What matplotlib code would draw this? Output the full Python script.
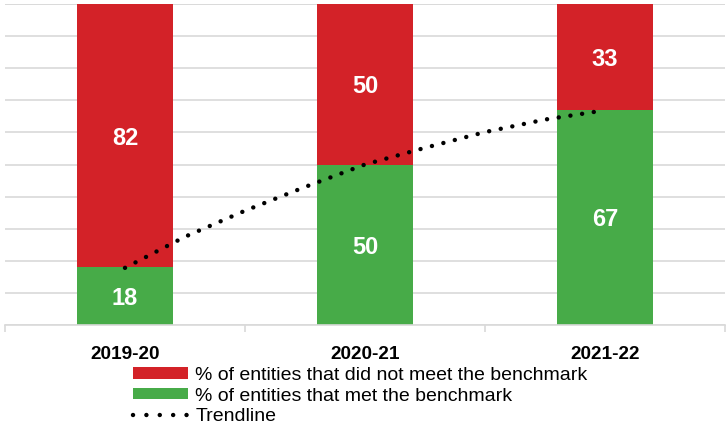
import matplotlib
matplotlib.use("Agg")
import matplotlib.pyplot as plt
from matplotlib.patches import Patch
from matplotlib.lines import Line2D

categories = ["2019-20", "2020-21", "2021-22"]
met = [18, 50, 67]
not_met = [82, 50, 33]
# trendline at quarter-category steps
trend_x = [0, 0.25, 0.5, 0.75, 1.0, 1.25, 1.5, 1.75, 2.0]
trend_y = [17.8, 27.5, 35.6, 43.0, 50.0, 55.2, 60.1, 64.0, 66.9]

RED = "#d32228"
GREEN = "#47ab48"
GRID = "#d9d9d9"

plt.rcParams['font.family'] = ['Liberation Sans', 'DejaVu Sans']

fig = plt.figure(figsize=(7.26, 4.25), dpi=100)
ax = fig.add_axes([5/726, 100/425, 720/726, 321/425])

x = list(range(len(categories)))
ax.bar(x, met, width=0.4, color=GREEN, zorder=2)
ax.bar(x, not_met, width=0.4, bottom=met, color=RED, zorder=2)

for i in x:
    ax.text(i, met[i]/2, str(met[i]), ha='center', va='center_baseline', color='white',
            fontsize=17, fontweight='bold', zorder=4)
    ax.text(i, met[i] + not_met[i]/2, str(not_met[i]), ha='center', va='center_baseline',
            color='white', fontsize=17, fontweight='bold', zorder=4)

dot_style = (0, (0.01, 2.65))
ax.plot(trend_x, trend_y, color='black', lw=3.2, linestyle=dot_style,
        dash_capstyle='round', solid_capstyle='round', zorder=3)

ax.set_xlim(-0.5, 2.5)
ax.set_ylim(0, 100)
ax.set_yticks(range(0, 101, 10))
ax.yaxis.grid(True, color=GRID, lw=1.2, zorder=0)
ax.tick_params(axis='y', length=0, labelleft=False)
ax.set_xticks([-0.5, 0.5, 1.5, 2.5], minor=False)
ax.set_xticklabels([])
ax.tick_params(axis='x', which='major', length=5, color=GRID, width=1.2)
ax.set_xticks(x, minor=True)
ax.set_xticklabels(categories, minor=True, fontsize=13.7, fontweight='bold')
ax.tick_params(axis='x', which='minor', length=0, pad=15)
for s in ['left', 'right', 'top']:
    ax.spines[s].set_visible(False)
ax.spines['bottom'].set_color(GRID)
ax.spines['bottom'].set_linewidth(1.2)
ax.axhline(100, color=GRID, lw=1.2, zorder=0)

handles = [Patch(facecolor=RED, edgecolor='none'),
           Patch(facecolor=GREEN, edgecolor='none'),
           Line2D([0], [0], color='black', lw=3.2, linestyle=(0, (0.01, 3.0)),
                  dash_capstyle='round')]
labels = ["% of entities that did not meet the benchmark",
          "% of entities that met the benchmark",
          "Trendline"]
fig.legend(handles, labels, loc='upper left', bbox_to_anchor=(133/726, 1 - 367/425),
           frameon=False, fontsize=14, handlelength=2.85, handleheight=0.52,
           handletextpad=0.35, labelspacing=0.19, borderpad=0, borderaxespad=0)

fig.savefig("out.png", dpi=100)
